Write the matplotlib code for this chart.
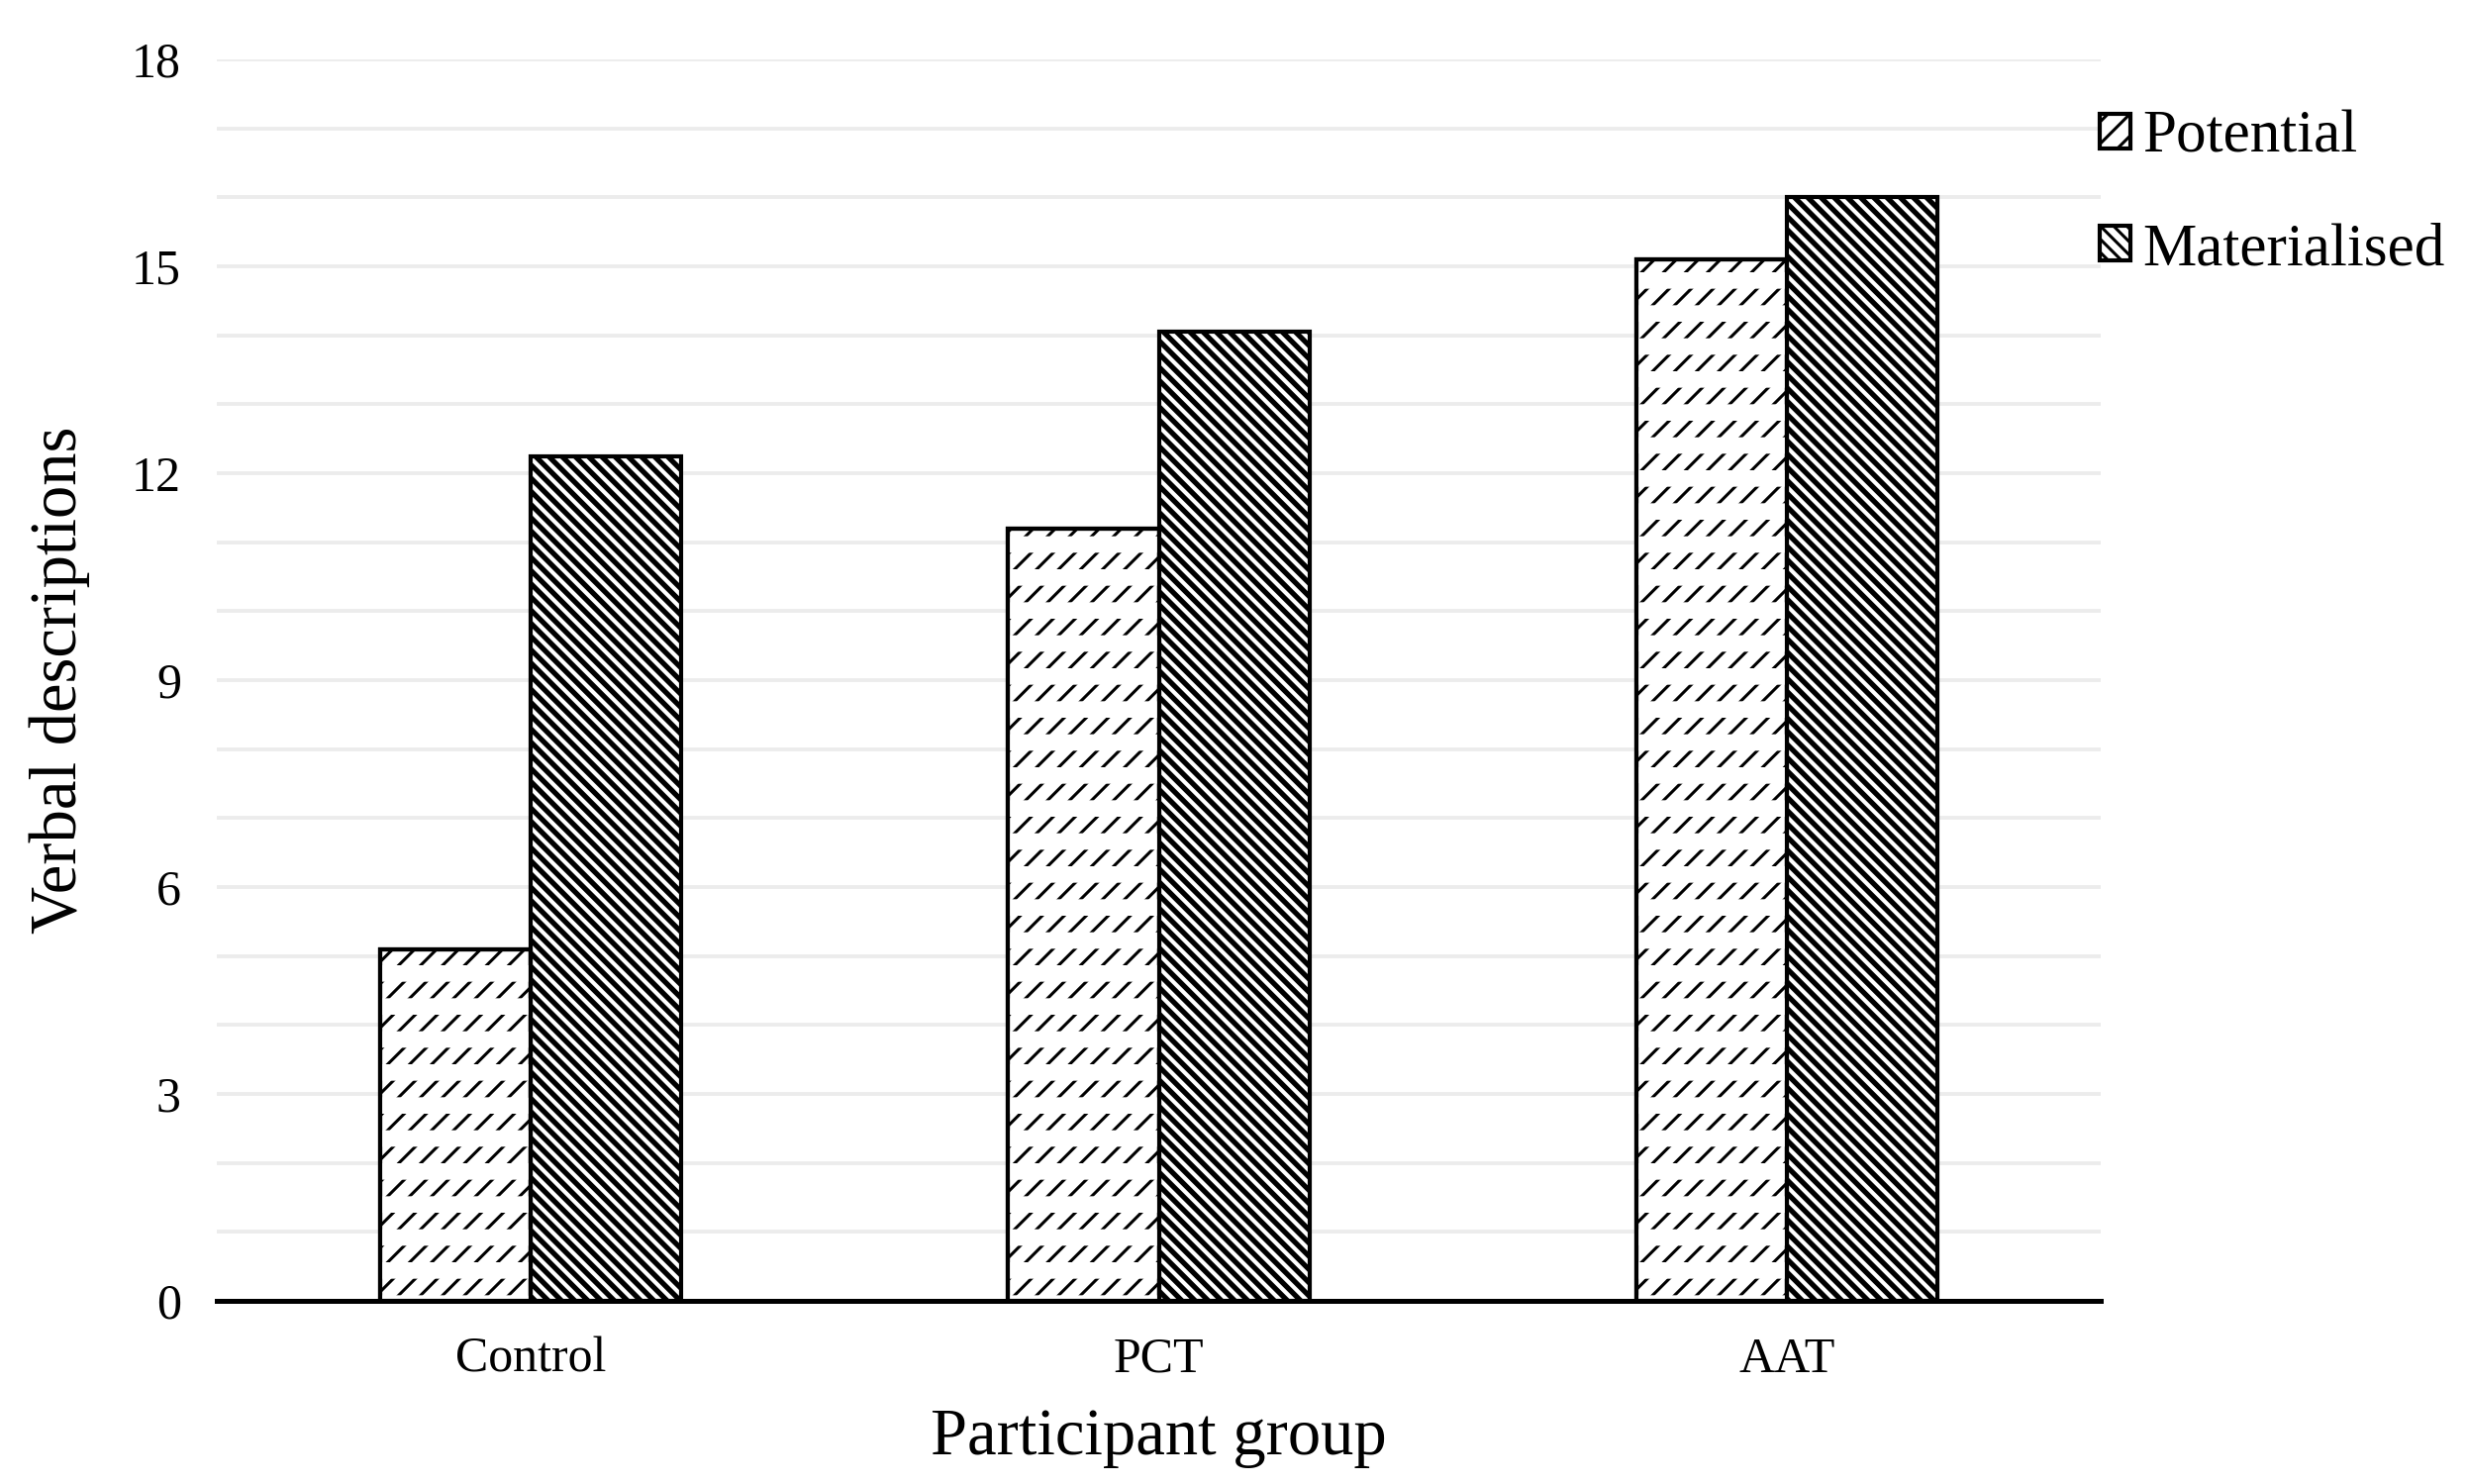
import numpy as np
import matplotlib.pyplot as plt
from matplotlib.ticker import MultipleLocator

plt.rcParams['font.family'] = ['Liberation Serif', 'DejaVu Serif']

groups = ['Control', 'PCT', 'AAT']
potential = [5.1, 11.2, 15.1]
materialised = [12.25, 14.05, 16.0]

fig = plt.figure(figsize=(12.46, 7.495), dpi=200)
ax = fig.add_axes([0.0879, 0.1234, 0.7637, 0.8366])

x = np.arange(len(groups))
w = 0.24

plt.rcParams['hatch.linewidth'] = 1.1
# potential: diagonal lines cut into dashes by white horizontal bands
b1 = ax.bar(x - w / 2, potential, w, color='white', edgecolor='black', hatch='///', linewidth=1.5, zorder=3)
cut = ax.bar(x - w / 2, potential, w, color='none', edgecolor='white', hatch='-', linewidth=0, zorder=4)
for p in cut:
    if hasattr(p, 'set_hatch_linewidth'):
        p.set_hatch_linewidth(6.0)
ax.bar(x - w / 2, potential, w, color='none', edgecolor='black', linewidth=1.5, zorder=5)

b2 = ax.bar(x + w / 2, materialised, w, color='white', edgecolor='black', hatch='\\\\\\\\\\', linewidth=1.5, zorder=3)
for p in b2:
    if hasattr(p, 'set_hatch_linewidth'):
        p.set_hatch_linewidth(1.9)

ax.set_xlim(-0.5, 2.5)
ax.set_ylim(0, 18)
ax.yaxis.set_major_locator(MultipleLocator(3))
ax.yaxis.set_minor_locator(MultipleLocator(1))
ax.grid(axis='y', which='both', color='#ececec', linewidth=1.4, zorder=0)
ax.set_axisbelow(True)

ax.set_xticks(x)
ax.set_xticklabels(groups)
ax.tick_params(axis='both', which='both', length=0, labelsize=18)
ax.tick_params(axis='y', pad=13)
ax.tick_params(axis='x', pad=13)

for s in ['top', 'right', 'left']:
    ax.spines[s].set_visible(False)
ax.spines['bottom'].set_linewidth(1.8)
ax.spines['bottom'].set_zorder(6)

ax.set_xlabel('Participant group', fontsize=24, labelpad=9)
ax.set_ylabel('Verbal descriptions', fontsize=24, labelpad=15)

fig.legend([b1, b2], ['Potential', 'Materialised'], loc='upper left',
           bbox_to_anchor=(0.8415, 0.942), frameon=False, fontsize=22,
           handlelength=0.5, handleheight=0.5, handletextpad=0.2,
           labelspacing=0.95, borderaxespad=0)

fig.savefig('out.png', dpi=200)
